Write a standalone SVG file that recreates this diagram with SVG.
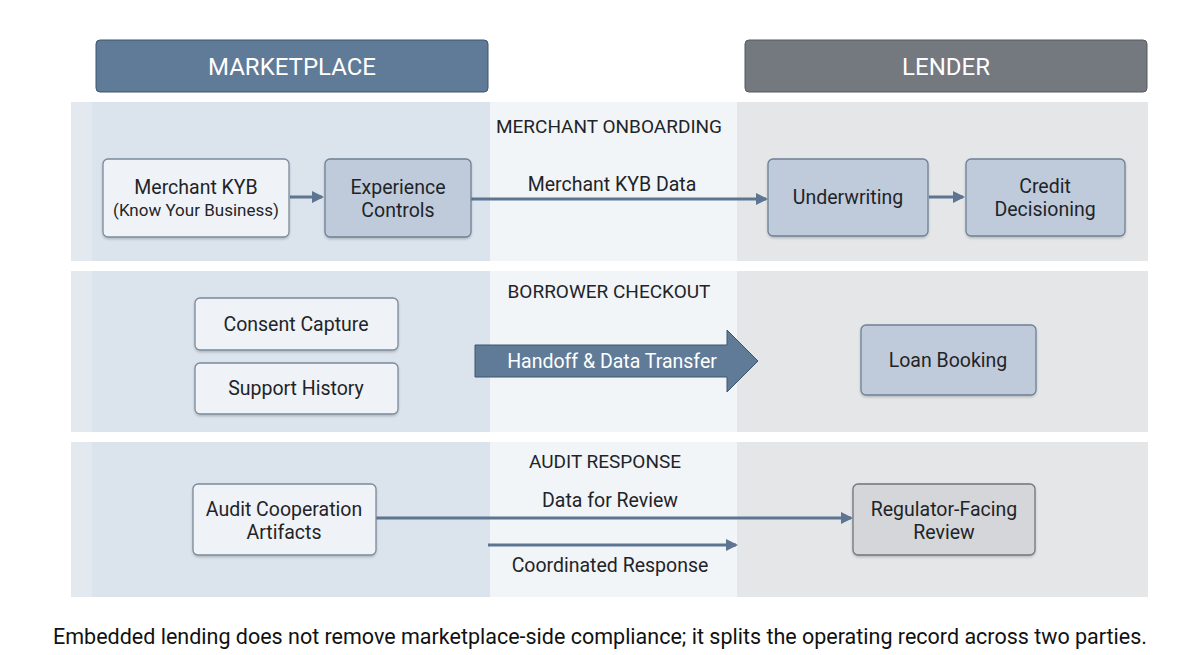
<svg xmlns="http://www.w3.org/2000/svg" width="1200" height="655" viewBox="0 0 1200 655">
<style>
text{font-family:Roboto,"Liberation Sans",sans-serif;fill:#1f2428}
.hdr{font-size:24px;fill:#fff;text-anchor:middle}
.sec{font-size:19px;text-anchor:middle}
.lbl{font-size:19.5px;text-anchor:middle}
.sm{font-size:17px;text-anchor:middle}
.nl{fill:#eff3f7;stroke:#7b8a9b;stroke-width:1.3}
.nb{fill:#bfcbda;stroke:#6e8096;stroke-width:1.3}
.ng{fill:#d4d6d9;stroke:#6f767f;stroke-width:1.3}
.ln{stroke:#5d7591;stroke-width:3;fill:none}
</style>
<defs>
<marker id="ah" markerWidth="12" markerHeight="12" refX="10" refY="6" orient="auto" markerUnits="userSpaceOnUse">
<path d="M0,0 L12,6 L0,12 Z" fill="#5d7591"/>
</marker>
<filter id="sh" x="-10%" y="-10%" width="120%" height="130%">
<feDropShadow dx="0" dy="1.5" stdDeviation="1.2" flood-color="#000" flood-opacity="0.2"/>
</filter>
</defs>
<rect width="1200" height="655" fill="#ffffff"/>
<g id="headers">
<rect x="96" y="40" width="392" height="52" rx="4" fill="#5f7b98" stroke="#3f556d" stroke-width="1"/>
<text class="hdr" x="292" y="75">MARKETPLACE</text>
<rect x="745" y="40" width="402" height="52" rx="4" fill="#74787f" stroke="#555a61" stroke-width="1"/>
<text class="hdr" x="946" y="75">LENDER</text>
</g>
<g id="bands">
<rect x="71" y="102" width="21" height="159" fill="#e3e9ef"/>
<rect x="92" y="102" width="398" height="159" fill="#dbe3ec"/>
<rect x="490" y="102" width="247" height="159" fill="#f2f5f8"/>
<rect x="737" y="102" width="411" height="159" fill="#e5e6e8"/>
<rect x="71" y="271" width="21" height="161" fill="#e3e9ef"/>
<rect x="92" y="271" width="398" height="161" fill="#dbe3ec"/>
<rect x="490" y="271" width="247" height="161" fill="#f2f5f8"/>
<rect x="737" y="271" width="411" height="161" fill="#e5e6e8"/>
<rect x="71" y="442" width="21" height="155" fill="#e3e9ef"/>
<rect x="92" y="442" width="398" height="155" fill="#dbe3ec"/>
<rect x="490" y="442" width="247" height="155" fill="#f2f5f8"/>
<rect x="737" y="442" width="411" height="155" fill="#e5e6e8"/>
<text class="sec" x="609" y="133">MERCHANT ONBOARDING</text>
<text class="sec" x="609" y="298">BORROWER CHECKOUT</text>
<text class="sec" x="605" y="468">AUDIT RESPONSE</text>
</g>
<g id="connectors">
<line class="ln" x1="290" y1="197" x2="322" y2="197" marker-end="url(#ah)"/>
<line class="ln" x1="471" y1="199" x2="766" y2="199" marker-end="url(#ah)"/>
<text class="lbl" x="612" y="191">Merchant KYB Data</text>
<line class="ln" x1="929" y1="197" x2="963" y2="197" marker-end="url(#ah)"/>
<path d="M475,345 H727 V330 L758,361 L727,392 V377 H475 Z" fill="#5f7b98" stroke="#3f556d" stroke-width="1"/>
<text class="lbl" x="612" y="368" style="fill:#fff">Handoff &amp; Data Transfer</text>
<line class="ln" x1="376" y1="518" x2="851" y2="518" marker-end="url(#ah)"/>
<text class="lbl" x="610" y="507">Data for Review</text>
<line class="ln" x1="488" y1="545" x2="736" y2="545" marker-end="url(#ah)"/>
<text class="lbl" x="610" y="572">Coordinated Response</text>
</g>
<g id="n-kyb"><rect class="nl" x="103" y="159" width="186" height="78" rx="5" filter="url(#sh)"/>
<text class="lbl" x="196" y="194">Merchant KYB</text><text class="sm" x="196" y="216">(Know Your Business)</text></g>
<g id="n-exp"><rect class="nb" x="325" y="159" width="146" height="78" rx="5" filter="url(#sh)"/>
<text class="lbl" x="398" y="194">Experience</text><text class="lbl" x="398" y="217">Controls</text></g>
<g id="n-uw"><rect class="nb" x="768" y="159" width="160" height="77" rx="5" filter="url(#sh)"/>
<text class="lbl" x="848" y="204">Underwriting</text></g>
<g id="n-cd"><rect class="nb" x="966" y="159" width="159" height="77" rx="5" filter="url(#sh)"/>
<text class="lbl" x="1045" y="193">Credit</text><text class="lbl" x="1045" y="216">Decisioning</text></g>
<g id="n-consent"><rect class="nl" x="195" y="298" width="203" height="52" rx="5" filter="url(#sh)"/>
<text class="lbl" x="296" y="331">Consent Capture</text></g>
<g id="n-support"><rect class="nl" x="195" y="363" width="203" height="51" rx="5" filter="url(#sh)"/>
<text class="lbl" x="296" y="395">Support History</text></g>
<g id="n-loan"><rect class="nb" x="861" y="325" width="175" height="70" rx="5" filter="url(#sh)"/>
<text class="lbl" x="948" y="367">Loan Booking</text></g>
<g id="n-audit"><rect class="nl" x="193" y="484" width="183" height="71" rx="5" filter="url(#sh)"/>
<text class="lbl" x="284" y="516">Audit Cooperation</text><text class="lbl" x="284" y="539">Artifacts</text></g>
<g id="n-reg"><rect class="ng" x="853" y="484" width="182" height="71" rx="5" filter="url(#sh)"/>
<text class="lbl" x="944" y="516">Regulator-Facing</text><text class="lbl" x="944" y="539">Review</text></g>
<text x="600" y="644" style="font-size:21.5px;text-anchor:middle;fill:#111">Embedded lending does not remove marketplace-side compliance; it splits the operating record across two parties.</text>
</svg>
